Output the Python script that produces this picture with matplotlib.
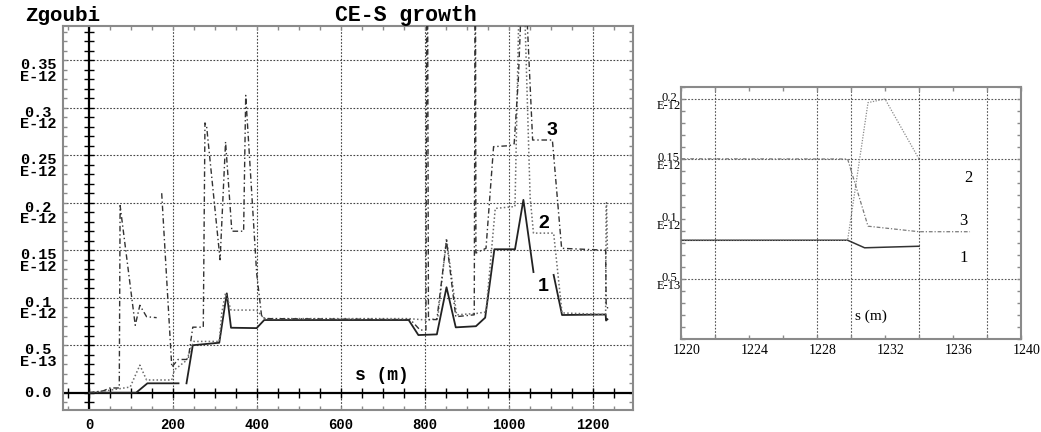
import numpy as np
import matplotlib
matplotlib.use('Agg')
import matplotlib.pyplot as plt
import matplotlib.transforms as mtransforms
from matplotlib.ticker import MultipleLocator

nan = np.nan

# longitudinal position s (m) and invariant growth (units of 1E-12)
s1 = [0, 112, 139, 213, nan, 232, 247, 310, 328, 338, 399, 417, 761, 784, 828, 851,
      873, 921, 943, 965, 1014, 1034, 1058, nan, 1106, 1126, 1229.8, 1230.8, 1232, 1234]
v1 = [0, 0, 0.0099, 0.0099, nan, 0.0099, 0.050, 0.0526, 0.1046, 0.0684, 0.068, 0.0765,
      0.0765, 0.0607, 0.0614, 0.111, 0.0688, 0.070, 0.079, 0.151, 0.151, 0.203, 0.127,
      nan, 0.124, 0.0818, 0.0823, 0.076, 0.0765, 0.0773]

s2 = [0, 40, 98, 121, 137, 197, 203, 232, 249, 310, 316, 325, 338, 399, 417, 761, 804,
      830, 851, 875, 923, 945, 967, 1014, 1024, 1036, 1050, 1058, 1106, 1126, 1229.8,
      1231, 1232, 1234]
v2 = [0, 0.002, 0.006, 0.029, 0.0134, 0.0134, 0.024, 0.034, 0.054, 0.054, 0.084, 0.105,
      0.087, 0.087, 0.078, 0.078, 0.0765, 0.078, 0.1625, 0.082, 0.0835, 0.085, 0.194,
      0.196, 0.42, 0.42, 0.206, 0.168, 0.168, 0.084, 0.0823, 0.197, 0.2, 0.15]

s3 = [0, 34, 50, 72, 74, 110, 121, 137, 161, nan, 173, 197, 212, 236, 247, 272, 276,
      280, 312, 325, 340, 368, 373, 399, 411, 420, 765, 788, 802, 804, 806, 808, 828,
      851, 873, 917, 919, 920, 921, 945, 963, 1000, 1012, 1022, 1030, 1040, 1056, 1103,
      1125, 1229.8, 1231, 1234, 1237]
v3 = [0, 0.002, 0.005, 0.005, 0.197, 0.071, 0.092, 0.080, 0.079, nan, 0.21, 0.027,
      0.035, 0.035, 0.069, 0.069, 0.284, 0.28, 0.14, 0.264, 0.17, 0.17, 0.313, 0.126,
      0.08, 0.078, 0.077, 0.066, 0.066, 0.42, 0.42, 0.077, 0.077, 0.16, 0.08, 0.082,
      0.42, 0.42, 0.147, 0.152, 0.259, 0.26, 0.262, 0.33, 0.42, 0.42, 0.266, 0.266,
      0.152, 0.15, 0.094, 0.0894, 0.0894]

yticks_main = [0, 0.05, 0.1, 0.15, 0.2, 0.25, 0.3, 0.35]
ylabels_main = ['0.0', '0.5\nE-13', '0.1\nE-12', '0.15\nE-12', '0.2\nE-12',
                '0.25\nE-12', '0.3\nE-12', '0.35\nE-12']
xticks_main = [0, 200, 400, 600, 800, 1000, 1200]

yticks_zoom = [0.05, 0.1, 0.15, 0.2]
ylabels_zoom = ['0.5\nE-13', '0.1\nE-12', '0.15\nE-12', '0.2\nE-12']
xticks_zoom = [1220, 1224, 1228, 1232, 1236, 1240]
xgrid_zoom = [1222, 1228, 1230, 1234, 1238]

MONO = 'Liberation Mono'
SANS = 'Liberation Sans'
SERIF = 'Liberation Serif'
FRAME = '#8a8a8a'

styles = [dict(color='#222222', lw=1.3, ls='-'),
          dict(color='#6a6a6a', lw=1.1, ls=(0, (1, 1.5))),
          dict(color='#333333', lw=1.0, ls=(0, (4, 2, 1, 2)))]
curves = [(s1, v1), (s2, v2), (s3, v3)]

fig = plt.figure(figsize=(10.41, 4.32), dpi=100)

# ---- full ring ----
ax = fig.add_axes([0.0605, 0.0509, 0.5476, 0.8889])
ax.set_xlim(-62, 1295)
ax.set_ylim(-0.0182, 0.386)

for x in xticks_main[1:]:
    ax.axvline(x, color='#444444', lw=0.8, ls=(0, (1.5, 1.5)), zorder=1)
for y in yticks_main[1:]:
    ax.axhline(y, color='#444444', lw=0.8, ls=(0, (1.5, 1.5)), zorder=1)

# axes through the origin, with their own cross ticks
ax.axvline(0, color='k', lw=1.6, zorder=2)
ax.axhline(0, color='k', lw=1.6, zorder=2)
yt = np.arange(-0.01, 0.385, 0.01)
ax.plot(np.zeros_like(yt), yt, ls='none', marker='_', ms=7, mew=1, color='k', zorder=2)
xt = np.arange(-50, 1300, 50)
ax.plot(xt, np.zeros_like(xt), ls='none', marker='|', ms=7, mew=1, color='k', zorder=2)

for (s, v), st in zip(curves, styles):
    ax.plot(s, v, zorder=3, **st)

for sp in ax.spines.values():
    sp.set_color(FRAME)
    sp.set_linewidth(1.5)
ax.xaxis.set_major_locator(MultipleLocator(200))
ax.xaxis.set_minor_locator(MultipleLocator(50))
ax.yaxis.set_major_locator(MultipleLocator(0.01))
ax.tick_params(axis='both', which='both', direction='in', length=3, width=1,
               color=FRAME, top=True, right=True)
ax.tick_params(axis='y', labelleft=False)
ax.set_xticks(xticks_main)
ax.set_xticklabels([str(x) for x in xticks_main], fontfamily=MONO,
                   fontweight='bold', fontsize=10)
ax.tick_params(axis='x', pad=6)

ytr = ax.get_yaxis_transform()
for y, lab in zip(yticks_main, ylabels_main):
    if y == 0:
        ax.text(-0.044, y, lab, transform=ytr, ha='center', va='center',
                fontfamily=MONO, fontweight='bold', fontsize=11)
    else:
        ax.text(-0.044, y + 0.002, lab, transform=ytr, ha='center', va='top',
                multialignment='center', linespacing=0.78,
                fontfamily=MONO, fontweight='bold', fontsize=11)

ax.text(698, 0.0176, 's (m)', ha='center', va='center', fontfamily=MONO,
        fontweight='bold', fontsize=13)
for lab, x, y in [('3', 1101, 0.276), ('2', 1082, 0.178), ('1', 1080, 0.112)]:
    ax.text(x, y, lab, ha='center', va='center', fontfamily=SANS,
            fontweight='bold', fontsize=14)

fig.text(25 / 1041, 1 - 21 / 432, 'Zgoubi', ha='left', va='baseline',
         fontfamily=MONO, fontweight='bold', fontsize=15)
fig.text(335 / 1041, 1 - 21 / 432, 'CE-S growth', ha='left', va='baseline',
         fontfamily=MONO, fontweight='bold', fontsize=15.5)

# ---- end of the ring, zoomed ----
az = fig.add_axes([0.6542, 0.2153, 0.3266, 0.5833])
az.set_xlim(1220, 1240)
az.set_ylim(0, 0.21)
for x in xgrid_zoom:
    az.axvline(x, color='#555555', lw=0.8, ls=(0, (1.5, 1.5)), zorder=1)
for y in [0.05, 0.15, 0.2]:
    az.axhline(y, color='#555555', lw=0.8, ls=(0, (1.5, 1.5)), zorder=1)

zstyles = [dict(color='#333333', lw=1.1, ls='-'),
           dict(color='#8a8a8a', lw=0.9, ls=(0, (1, 1.2))),
           dict(color='#7a7a7a', lw=0.9, ls=(0, (3, 1.5, 1, 1.5)))]
for (s, v), st in zip(curves, zstyles):
    az.plot(s, v, zorder=3, **st)

for sp in az.spines.values():
    sp.set_color(FRAME)
    sp.set_linewidth(1.5)
az.set_xticks(xticks_zoom)
az.xaxis.set_minor_locator(MultipleLocator(2))
az.yaxis.set_major_locator(MultipleLocator(0.05))
az.yaxis.set_minor_locator(MultipleLocator(0.01))
az.tick_params(axis='both', which='both', direction='in', length=3, width=1,
               color=FRAME, top=True, right=True)
az.tick_params(axis='y', labelleft=False)
az.set_xticklabels([str(x) for x in xticks_zoom], fontfamily=SERIF, fontsize=10)
shift = mtransforms.ScaledTranslation(6 / 100, 0, fig.dpi_scale_trans)
for lab in az.get_xticklabels():
    lab.set_transform(lab.get_transform() + shift)

ztr = az.get_yaxis_transform()
for y, lab in zip(yticks_zoom, ylabels_zoom):
    az.text(0.0, y - 0.0025, lab, transform=ztr, ha='right', va='center',
            multialignment='center', linespacing=0.55,
            fontfamily=SERIF, fontsize=9)

az.text(1231.2, 0.019, 's (m)', ha='center', va='center', fontfamily=SERIF,
        fontsize=11)
for lab, x, y in [('2', 1236.9, 0.134), ('3', 1236.6, 0.098), ('1', 1236.6, 0.0675)]:
    az.text(x, y, lab, ha='center', va='center', fontfamily=SERIF, fontsize=12)

fig.savefig('out.png', dpi=100)
